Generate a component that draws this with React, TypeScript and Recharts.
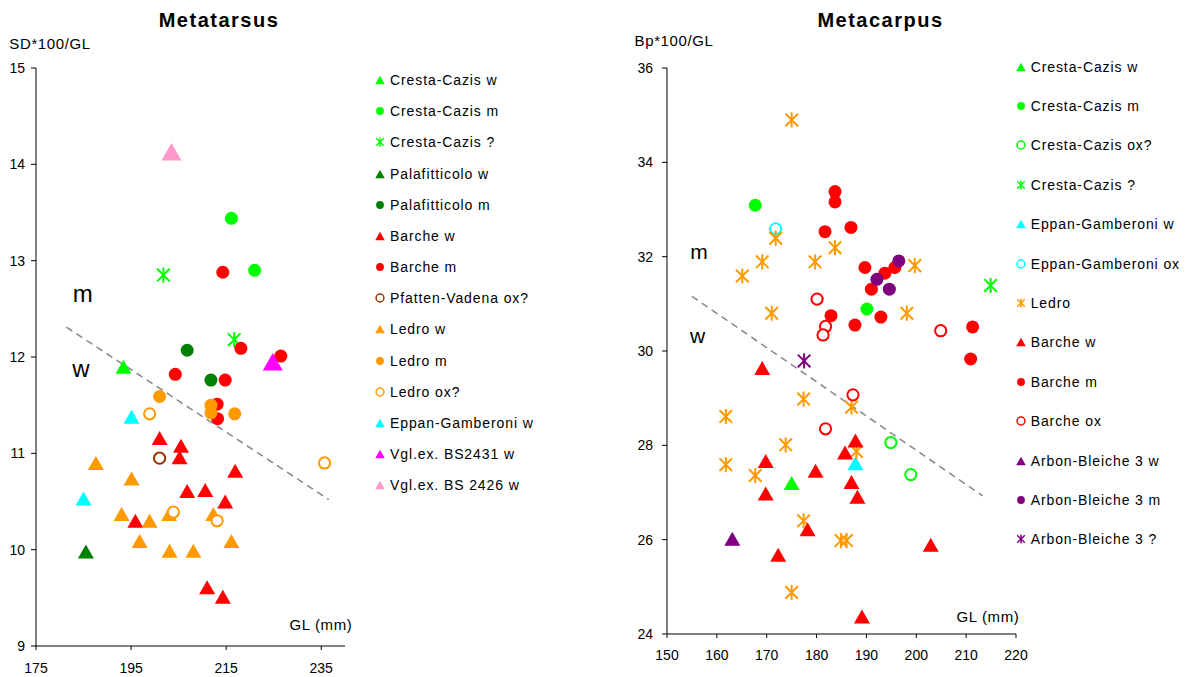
import React from 'react';
import { ScatterChart, Scatter, XAxis, YAxis, ReferenceLine, Legend } from 'recharts';

type Pt = [number, number];
type Kind = 'tri' | 'dot' | 'ring' | 'star';

const LIME = '#00ff00';
const DKGREEN = '#008000';
const RED = '#ff0000';
const BROWN = '#993300';
const ORANGE = '#ff9900';
const CYAN = '#00ffff';
const MAGENTA = '#ff00ff';
const PINK = '#ff99cc';
const PURPLE = '#800080';

// Metatarsus (GL, SD*100/GL)
const mtCrestaW: Pt[] = [[193.4, 11.9]];
const mtCrestaM: Pt[] = [[216.1, 13.44], [221, 12.9]];
const mtCrestaQ: Pt[] = [[201.8, 12.85], [216.7, 12.18]];
const mtPalaW: Pt[] = [[185.5, 9.98]];
const mtPalaM: Pt[] = [[206.8, 12.07], [211.8, 11.76]];
const mtBarcheW: Pt[] = [
  [201, 11.16], [205.5, 11.08], [205.2, 10.96], [216.9, 10.82], [206.8, 10.61],
  [210.6, 10.62], [214.8, 10.5], [195.9, 10.3], [211, 9.61], [214.3, 9.51],
];
const mtBarcheM: Pt[] = [
  [214.3, 12.88], [218.1, 12.09], [226.5, 12.01], [204.3, 11.82], [214.8, 11.76],
  [213.1, 11.51], [213.2, 11.36],
];
const mtPfattenOx: Pt[] = [[201, 10.95]];
const mtLedroW: Pt[] = [
  [187.6, 10.9], [195.1, 10.74], [193, 10.37], [198.9, 10.3], [203, 10.37],
  [212.3, 10.37], [196.8, 10.09], [216.1, 10.09], [203.1, 9.99], [208.1, 9.99],
];
const mtLedroM: Pt[] = [[201, 11.59], [211.8, 11.5], [211.8, 11.42], [216.8, 11.41]];
const mtLedroOx: Pt[] = [[198.9, 11.41], [235.7, 10.9], [203.9, 10.39], [213.1, 10.3]];
const mtEppanW: Pt[] = [[195.1, 11.38], [185, 10.53]];
const mtBs2431: Pt[] = [[224.8, 11.95]];
const mtBs2426: Pt[] = [[203.5, 14.13]];
const mtDivider = [{ x: 181.4, y: 12.31 }, { x: 236.6, y: 10.52 }];
const mtXTicks = [175, 195, 215, 235];
const mtYTicks = [9, 10, 11, 12, 13, 14, 15];

// Metacarpus (GL, Bp*100/GL)
const mcCrestaW: Pt[] = [[175, 27.2]];
const mcCrestaM: Pt[] = [[167.7, 33.09], [190.1, 30.89]];
const mcCrestaOx: Pt[] = [[194.9, 28.06], [198.9, 27.38]];
const mcCrestaQ: Pt[] = [[214.9, 31.39]];
const mcEppanW: Pt[] = [[187.8, 27.62]];
const mcEppanOx: Pt[] = [[171.8, 32.59]];
const mcLedro: Pt[] = [
  [175, 34.9], [171.8, 32.39], [183.7, 32.19], [169.1, 31.89], [165.1, 31.59],
  [179.7, 31.89], [199.7, 31.81], [171, 30.8], [198.1, 30.8], [177.4, 28.98],
  [161.8, 28.61], [187, 28.81], [173.8, 28.01], [188, 27.87], [161.8, 27.59],
  [167.7, 27.36], [177.4, 26.4], [184.9, 25.98], [186, 25.98], [175, 24.88],
];
const mcBarcheW: Pt[] = [
  [169.1, 29.64], [187.8, 28.1], [185.7, 27.85], [169.8, 27.67], [179.8, 27.46],
  [187, 27.22], [169.8, 26.98], [188.2, 26.91], [178.2, 26.22], [172.3, 25.68],
  [202.9, 25.89], [189.1, 24.37],
];
const mcBarcheM: Pt[] = [
  [183.7, 33.38], [183.7, 33.16], [181.7, 32.53], [186.9, 32.62], [189.7, 31.77],
  [193.7, 31.65], [195.7, 31.77], [191, 31.31], [182.9, 30.75], [192.9, 30.72],
  [187.7, 30.55], [211.3, 30.51], [210.9, 29.83],
];
const mcBarcheOx: Pt[] = [
  [180.1, 31.1], [181.8, 30.52], [181.3, 30.34], [204.9, 30.43], [187.3, 29.07], [181.8, 28.35],
];
const mcArbonW: Pt[] = [[163.1, 26.02]];
const mcArbonM: Pt[] = [[196.5, 31.91], [192.1, 31.52], [194.6, 31.31]];
const mcArbonQ: Pt[] = [[177.5, 29.79]];
const mcDivider = [{ x: 155, y: 31.16 }, { x: 213.3, y: 26.93 }];
const mcXTicks = [150, 160, 170, 180, 190, 200, 210, 220];
const mcYTicks = [24, 26, 28, 30, 32, 34, 36];

interface Series {
  name: string;
  kind: Kind;
  color: string;
  data: Pt[];
  big?: boolean;
}

const tarsusSeries: Series[] = [
  { name: 'Cresta-Cazis w', kind: 'tri', color: LIME, data: mtCrestaW },
  { name: 'Cresta-Cazis m', kind: 'dot', color: LIME, data: mtCrestaM },
  { name: 'Cresta-Cazis ?', kind: 'star', color: LIME, data: mtCrestaQ },
  { name: 'Palafitticolo w', kind: 'tri', color: DKGREEN, data: mtPalaW },
  { name: 'Palafitticolo m', kind: 'dot', color: DKGREEN, data: mtPalaM },
  { name: 'Barche w', kind: 'tri', color: RED, data: mtBarcheW },
  { name: 'Barche m', kind: 'dot', color: RED, data: mtBarcheM },
  { name: 'Pfatten-Vadena ox?', kind: 'ring', color: BROWN, data: mtPfattenOx },
  { name: 'Ledro w', kind: 'tri', color: ORANGE, data: mtLedroW },
  { name: 'Ledro m', kind: 'dot', color: ORANGE, data: mtLedroM },
  { name: 'Ledro ox?', kind: 'ring', color: ORANGE, data: mtLedroOx },
  { name: 'Eppan-Gamberoni w', kind: 'tri', color: CYAN, data: mtEppanW },
  { name: 'Vgl.ex. BS2431 w', kind: 'tri', color: MAGENTA, data: mtBs2431, big: true },
  { name: 'Vgl.ex. BS 2426 w', kind: 'tri', color: PINK, data: mtBs2426, big: true },
];

const carpusSeries: Series[] = [
  { name: 'Cresta-Cazis w', kind: 'tri', color: LIME, data: mcCrestaW },
  { name: 'Cresta-Cazis m', kind: 'dot', color: LIME, data: mcCrestaM },
  { name: 'Cresta-Cazis ox?', kind: 'ring', color: LIME, data: mcCrestaOx },
  { name: 'Cresta-Cazis ?', kind: 'star', color: LIME, data: mcCrestaQ },
  { name: 'Eppan-Gamberoni w', kind: 'tri', color: CYAN, data: mcEppanW },
  { name: 'Eppan-Gamberoni ox', kind: 'ring', color: CYAN, data: mcEppanOx },
  { name: 'Ledro', kind: 'star', color: ORANGE, data: mcLedro },
  { name: 'Barche w', kind: 'tri', color: RED, data: mcBarcheW },
  { name: 'Barche m', kind: 'dot', color: RED, data: mcBarcheM },
  { name: 'Barche ox', kind: 'ring', color: RED, data: mcBarcheOx },
  { name: 'Arbon-Bleiche 3 w', kind: 'tri', color: PURPLE, data: mcArbonW },
  { name: 'Arbon-Bleiche 3 m', kind: 'dot', color: PURPLE, data: mcArbonM },
  { name: 'Arbon-Bleiche 3 ?', kind: 'star', color: PURPLE, data: mcArbonQ },
];

const FONT = '"Liberation Sans", Arial, sans-serif';

const Marker = ({ cx, cy, kind, color, s }: { cx: number; cy: number; kind: Kind; color: string; s: number }) => {
  if (kind === 'tri') {
    const hw = 8 * s;
    const hh = 7 * s;
    return <polygon points={`${cx},${cy - hh} ${cx - hw},${cy + hh} ${cx + hw},${cy + hh}`} fill={color} />;
  }
  if (kind === 'dot') return <circle cx={cx} cy={cy} r={6.5 * s} fill={color} />;
  if (kind === 'ring')
    return <circle cx={cx} cy={cy} r={5.6 * s} fill="#fff" stroke={color} strokeWidth={Math.max(1.5, 2 * s)} />;
  const a = 6.3 * s;
  const sw = Math.max(1.5, 2 * s);
  return (
    <g stroke={color} strokeWidth={sw}>
      <line x1={cx - a} y1={cy - a} x2={cx + a} y2={cy + a} />
      <line x1={cx - a} y1={cy + a} x2={cx + a} y2={cy - a} />
      <line x1={cx} y1={cy - a * 1.2} x2={cx} y2={cy + a * 1.2} />
    </g>
  );
};

const shapeFor = (s: Series) => (p: any) => (
  <Marker cx={p.cx} cy={p.cy} kind={s.kind} color={s.color} s={s.big ? 1.25 : 1} />
);

const toXY = (pts: Pt[]) => pts.map(([x, y]) => ({ x, y }));

const LegendBox = ({ series, rowH }: { series: Series[]; rowH: number }) => (
  <div style={{ fontFamily: FONT, fontSize: 14, color: '#000' }}>
    {series.map((s) => (
      <div key={s.name} style={{ height: rowH, display: 'flex', alignItems: 'center', whiteSpace: 'nowrap' }}>
        <svg width={12} height={12} style={{ flex: 'none' }}>
          <Marker cx={6} cy={6} kind={s.kind} color={s.color} s={s.kind === 'ring' ? 0.7 : 0.6} />
        </svg>
        <span style={{ marginLeft: 4, letterSpacing: 0.9 }}>{s.name}</span>
      </div>
    ))}
  </div>
);

const tickStyle = { fontSize: 14, fill: '#000', fontFamily: FONT };

const Txt = ({ x, y, children, size = 15, bold = false, spacing = 0.6 }: any) => (
  <div
    style={{
      position: 'absolute', left: x, top: y, transform: 'translate(-50%, -50%)', fontFamily: FONT,
      fontSize: size, fontWeight: bold ? 'bold' : 'normal', letterSpacing: spacing, whiteSpace: 'nowrap', color: '#000',
    }}
  >
    {children}
  </div>
);

const App = () => (
  <div style={{ position: 'absolute', left: 0, top: 0, width: 1188, height: 677, background: '#fff', overflow: 'hidden' }}>
    <div style={{ position: 'absolute', left: 0, top: 0 }}>
      <ScatterChart width={560} height={677} margin={{ top: 68, right: 215, bottom: 0, left: 0 }}>
        <XAxis
          type="number" dataKey="x" domain={[175, 240]} ticks={mtXTicks} height={31}
          tick={tickStyle} tickSize={4} tickMargin={13} stroke="#000" allowDataOverflow
        />
        <YAxis
          type="number" dataKey="y" domain={[9, 15]} ticks={mtYTicks} width={36}
          tick={tickStyle} tickSize={5} tickMargin={6} stroke="#000" allowDataOverflow
        />
        <ReferenceLine segment={mtDivider} stroke="#8c8c8c" strokeWidth={1.6} strokeDasharray="7 5" />
        {tarsusSeries.map((s) => (
          <Scatter key={s.name} name={s.name} data={toXY(s.data)} shape={shapeFor(s)} isAnimationActive={false} />
        ))}
        <Legend
          layout="vertical" align="center" verticalAlign="middle"
          wrapperStyle={{ left: 374, top: 64.4, width: 190 }}
          content={() => <LegendBox series={tarsusSeries} rowH={31.2} />}
        />
      </ScatterChart>
    </div>
    <div style={{ position: 'absolute', left: 600, top: 0 }}>
      <ScatterChart width={588} height={677} margin={{ top: 68, right: 172, bottom: 0, left: 0 }}>
        <XAxis
          type="number" dataKey="x" domain={[150, 220]} ticks={mcXTicks} height={43}
          tick={tickStyle} tickSize={4} tickMargin={12} stroke="#000" allowDataOverflow
        />
        <YAxis
          type="number" dataKey="y" domain={[24, 36]} ticks={mcYTicks} width={67}
          tick={tickStyle} tickSize={5} tickMargin={9} stroke="#000" allowDataOverflow
        />
        <ReferenceLine segment={mcDivider} stroke="#8c8c8c" strokeWidth={1.6} strokeDasharray="7 5" />
        {carpusSeries.map((s) => (
          <Scatter key={s.name} name={s.name} data={toXY(s.data)} shape={shapeFor(s)} isAnimationActive={false} />
        ))}
        <Legend
          layout="vertical" align="center" verticalAlign="middle"
          wrapperStyle={{ left: 414.7, top: 47, width: 175 }}
          content={() => <LegendBox series={carpusSeries} rowH={39.4} />}
        />
      </ScatterChart>
    </div>
    <Txt x={219} y={20} size={20} bold spacing={1.5}>Metatarsus</Txt>
    <Txt x={880.5} y={20} size={20} bold spacing={1.5}>Metacarpus</Txt>
    <Txt x={50} y={42.7}>SD*100/GL</Txt>
    <Txt x={674} y={40}>Bp*100/GL</Txt>
    <Txt x={321} y={624}>GL (mm)</Txt>
    <Txt x={988} y={616}>GL (mm)</Txt>
    <Txt x={82.7} y={294} size={24} spacing={0}>m</Txt>
    <Txt x={81} y={369} size={24} spacing={0}>w</Txt>
    <Txt x={699} y={252} size={21} spacing={0}>m</Txt>
    <Txt x={697.7} y={336} size={21} spacing={0}>w</Txt>
  </div>
);

export default App;
